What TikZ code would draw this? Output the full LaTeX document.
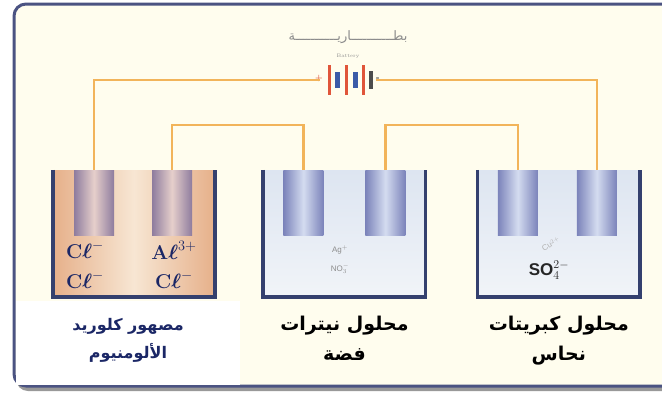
\documentclass[tikz,border=0pt]{standalone}
\usepackage{amsmath}
\usepackage{fontspec}
\newfontfamily\arabicfont[Script=Arabic]{DejaVu Sans}
\newfontfamily\ionfont{Liberation Sans}
\TeXXeTstate=1
\usetikzlibrary{positioning}

\definecolor{cream}{HTML}{FFFDEE}
\definecolor{framegray}{HTML}{4B5382}
\definecolor{wireorange}{HTML}{F2B45A}
\definecolor{wallblue}{HTML}{34406E}
\definecolor{meltpeach}{HTML}{E6B08A}
\definecolor{meltlight}{HTML}{F7E6D3}
\definecolor{solblue}{HTML}{DDE5F1}
\definecolor{sollight}{HTML}{F1F4F8}
\definecolor{rodmauve}{HTML}{8E7C9E}
\definecolor{rodpink}{HTML}{E6CFCB}
\definecolor{rodblue}{HTML}{7B83BA}
\definecolor{rodpale}{HTML}{D4DCF0}
\definecolor{navytext}{HTML}{1B2766}
\definecolor{plus}{HTML}{E0553A}
\definecolor{plateblue}{HTML}{3C5BA8}

\begin{document}
\begin{tikzpicture}[x=1pt, y=-1pt, node distance=20pt,
    tank/.style={rectangle, inner sep=0pt, minimum width=162pt, minimum height=127pt},
    wall/.style={line width=3.5pt, draw=wallblue},
    rodA/.style={rectangle, inner sep=0pt, minimum width=40pt, minimum height=65pt,
        left color=rodmauve, right color=rodmauve, middle color=rodpink},
    rodB/.style={rectangle, inner sep=0pt, minimum width=40pt, minimum height=65pt,
        left color=rodblue, right color=rodblue, middle color=rodpale},
    wire/.style={line width=2.5pt, draw=wireorange},
    ionA/.style={text=navytext, font=\fontsize{20}{20}\selectfont\bfseries},
    ionB/.style={text=black!45, font=\ionfont\fontsize{8}{9}\selectfont},
    caption/.style={font=\arabicfont\bfseries\fontsize{19}{30}\selectfont, align=center}]
    \useasboundingbox (0,0) rectangle (662,394);
    \clip (0,0) rectangle (662,394);
    \fill[white] (0,0) rectangle (662,394);

    % frame with a soft shadow
    \fill[black!40, rounded corners=12pt] (16,7) rectangle (690,391);
    \draw[line width=3pt, draw=framegray, fill=cream, rounded corners=12pt] (14,4) rectangle (690,386);
    \node[fill=white, inner sep=0pt, minimum width=224pt, minimum height=84pt] (capA) at (128,342.5) {};

    % tanks
    \node[tank, left color=meltpeach, right color=meltpeach, middle color=meltlight] (tankA) at (134,233.5) {};
    \node[tank, top color=solblue, bottom color=sollight, right=48pt of tankA] (tankB) {};
    \node[tank, top color=solblue, bottom color=sollight, right=52pt of tankB] (tankC) {};
    \foreach \t in {tankA, tankB, tankC}
        \draw[wall] (\t.north west) -- (\t.south west) -- (\t.south east) -- (\t.north east);

    % electrodes
    \node[rodA, below right=0pt and 21pt of tankA.north west] (a1) {};
    \node[rodA, below left=0pt and 23pt of tankA.north east] (a2) {};
    \node[rodB, below right=0pt and 20pt of tankB.north west] (b1) {};
    \node[rodB, below left=0pt and 20pt of tankB.north east] (b2) {};
    \node[rodB, below right=0pt and 20pt of tankC.north west] (c1) {};
    \node[rodB, below left=0pt and 23pt of tankC.north east] (c2) {};

    % battery
    \node[inner sep=0pt, minimum width=56pt, minimum height=34pt] (bat) at (348,80) {};
    \foreach \dx/\h/\w/\c in {-19/30/3/plus, -11/16/5/plateblue, -2/30/3/plus, 7/16/5/plateblue, 15/30/3/plus, 23/18/4.5/black!70}
        \draw[line width=\w pt, draw=\c] ([xshift=\dx pt, yshift=\h/2 pt]bat.center) -- ([xshift=\dx pt, yshift=-\h/2 pt]bat.center);
    \node[text=plus, font=\fontsize{8}{8}\selectfont\bfseries, inner sep=0pt] at ([xshift=-29pt, yshift=2pt]bat.center) {+};
    \node[text=black!80, font=\fontsize{9}{9}\selectfont\bfseries, inner sep=0pt] at ([xshift=30pt, yshift=1pt]bat.center) {-};
    \node[above=4pt of bat, inner sep=0pt, text=black!45, font=\fontsize{5}{5}\selectfont] (batEn) {Battery};
    \node[above=10pt of batEn, inner sep=0pt, text=black!45, font=\arabicfont\fontsize{13}{13}\selectfont] (batAr) {\beginR بطـــــــــــاريـــــــــــة\endR};

    % wires
    \draw[wire] (a1.north) |- (bat.west);
    \draw[wire] (bat.east) -| (c2.north);
    \draw[wire] (a2.north) -- ++(0,-45) -| (b1.north);
    \draw[wire] (b2.north) -- ++(0,-45) -| (c1.north);

    % ions
    \node[ionA] at (85,250) {C$\boldsymbol{\ell}^{-}$};
    \node[ionA] at (174,250) {A$\boldsymbol{\ell}^{3+}$};
    \node[ionA] at (85,280) {C$\boldsymbol{\ell}^{-}$};
    \node[ionA] at (174,280) {C$\boldsymbol{\ell}^{-}$};
    \node[ionB] at (340,250) {Ag$^{+}$};
    \node[ionB] at (340,269) {NO$_3^{-}$};
    \node[ionB, rotate=30, text=black!30] at (551,244) {Cu$^{2+}$};
    \node[text=black!85, font=\ionfont\bfseries\fontsize{17}{17}\selectfont] at (549,270) {SO$_4^{2-}$};

    % captions
    \node[caption, text=navytext, font=\arabicfont\bfseries\fontsize{16}{28}\selectfont] at ([yshift=2pt]capA.center) {\beginR مصهور كلوريد\endR\\\beginR الألومنيوم\endR};
    \node[caption, below=15pt of tankB] (capB) {\beginR محلول نيترات\endR\\\beginR فضة\endR};
    \node[caption, below=15pt of tankC] (capC) {\beginR محلول كبريتات\endR\\\beginR نحاس\endR};
\end{tikzpicture}
\end{document}
